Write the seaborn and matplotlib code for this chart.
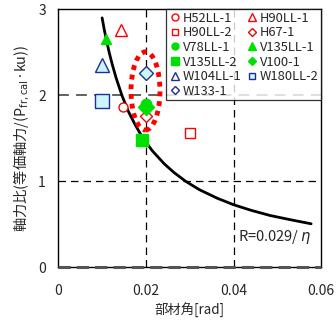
import matplotlib
matplotlib.use("Agg")
import matplotlib.pyplot as plt
import seaborn as sns
from matplotlib.lines import Line2D
from matplotlib.patches import Ellipse

# Specimen data
names = ["H52LL-1", "H90LL-2", "V78LL-1", "V135LL-2", "W104LL-1", "W133-1",
         "H90LL-1", "H67-1", "V135LL-1", "V100-1", "W180LL-2"]
rotation = [0.0148, 0.0300, 0.0200, 0.0191, 0.0100, 0.0200,
            0.0142, 0.0200, 0.0110, 0.0200, 0.0100]
axial_ratio = [1.86, 1.56, 1.90, 1.48, 2.35, 2.26,
               2.76, 1.76, 2.65, 1.86, 1.93]
markers = ["o", "s", "o", "s", "^", "D", "^", "D", "^", "D", "s"]
edge_colors = ["red", "red", "#00E000", "#00E000", "#1F2F8F", "#1F2F8F",
               "red", "red", "#00E000", "#00E000", "#1F2F8F"]
face_colors = ["white", "white", "#00E000", "#00E000", "#CCF5FF", "#CCF5FF",
               "white", "white", "#00E000", "#00E000", "#CCF5FF"]
plot_sizes = [6.5, 7.5, 7.5, 9, 10, 7.5, 8.5, 6.5, 7.5, 8, 9.5]
legend_sizes = [5, 5, 5, 5.5, 5.5, 4.5, 5.5, 4.5, 5.5, 4, 5]

# Curve R = 0.029 / eta
curve_rotation = [0.0100, 0.0105, 0.0110, 0.0116, 0.0123, 0.0132, 0.0145,
                  0.0160, 0.0175, 0.0193, 0.0215, 0.0242, 0.0264, 0.0290,
                  0.0322, 0.0363, 0.0400, 0.0440, 0.0483, 0.0530, 0.0577]
curve_axial = [2.90, 2.76, 2.64, 2.50, 2.36, 2.20, 2.00,
               1.81, 1.66, 1.50, 1.35, 1.20, 1.10, 1.00,
               0.90, 0.80, 0.725, 0.66, 0.60, 0.55, 0.503]

sns.set_style("white")
plt.rcParams["font.family"] = ["Noto Sans CJK JP", "DejaVu Sans"]

fig = plt.figure(figsize=(3.36, 3.2), dpi=100)
ax = fig.add_axes([0.1735, 0.1656, 0.7825, 0.8054])

# dashed grid
for xv in [0.02, 0.04]:
    ax.axvline(xv, color="black", ls=(0, (6, 4)), lw=0.9, zorder=1)
for yv in [1, 2]:
    ax.axhline(yv, color="black" if yv == 1 else "#555555", ls=(0, (6, 4)),
               lw=0.9 if yv == 1 else 1.3, zorder=1)
ax.axhline(0, color="#555555", ls=(0, (4, 2)), lw=2.2, zorder=5, clip_on=False)

sns.lineplot(x=curve_rotation, y=curve_axial, color="black", lw=2,
             ax=ax, zorder=2, sort=False)

for n, xv, yv, m, ec, fc, s in zip(names, rotation, axial_ratio, markers,
                                    edge_colors, face_colors, plot_sizes):
    ax.plot(xv, yv, marker=m, ms=s, mec=ec, mfc=fc, mew=1.0, ls="none",
            zorder=4)

ell = Ellipse((0.0199, 2.05), 0.0066, 0.91, fill=False, edgecolor="red",
              ls=(0, (1, 1)), lw=3.5, zorder=3)
ax.add_patch(ell)

handles = []
for n, m, ec, fc, s in zip(names, markers, edge_colors, face_colors,
                           legend_sizes):
    if n in ("W104LL-1", "W133-1"):
        fc = "white"
    handles.append(Line2D([], [], marker=m, ls="none", ms=s, mec=ec, mfc=fc,
                          mew=1.0, label=n))
leg = ax.legend(handles=handles, ncol=2, loc="upper right", fontsize=9.3,
                frameon=True, fancybox=False, edgecolor="black",
                borderpad=0.2, labelspacing=0.12, handletextpad=0.1,
                columnspacing=0.3, handlelength=1.0, borderaxespad=0.0)
leg.get_frame().set_linewidth(0.9)
leg.set_zorder(6)

ax.text(0.0411, 0.35, "R=0.029/ $\\eta$", fontsize=10.5, ha="left",
        va="center")

ax.set_xlim(0, 0.06)
ax.set_ylim(0, 3)
ax.set_xticks([0, 0.02, 0.04, 0.06])
ax.set_xticklabels(["0", "0.02", "0.04", "0.06"])
ax.set_yticks([0, 1, 2, 3])
ax.tick_params(axis="both", length=0, labelsize=10)
ax.tick_params(axis="x", pad=12)
ax.tick_params(axis="y", pad=9)
for sp in ax.spines.values():
    sp.set_color("black")
    sp.set_linewidth(1.0)

ax.set_xlabel("部材角[rad]", fontsize=9.6, labelpad=3)
ax.set_ylabel("軸力比(等価軸力/(P$_{\\mathrm{fr,cal}}$·ku))", fontsize=10.3,
              labelpad=5)

fig.savefig("out.png", dpi=100)
